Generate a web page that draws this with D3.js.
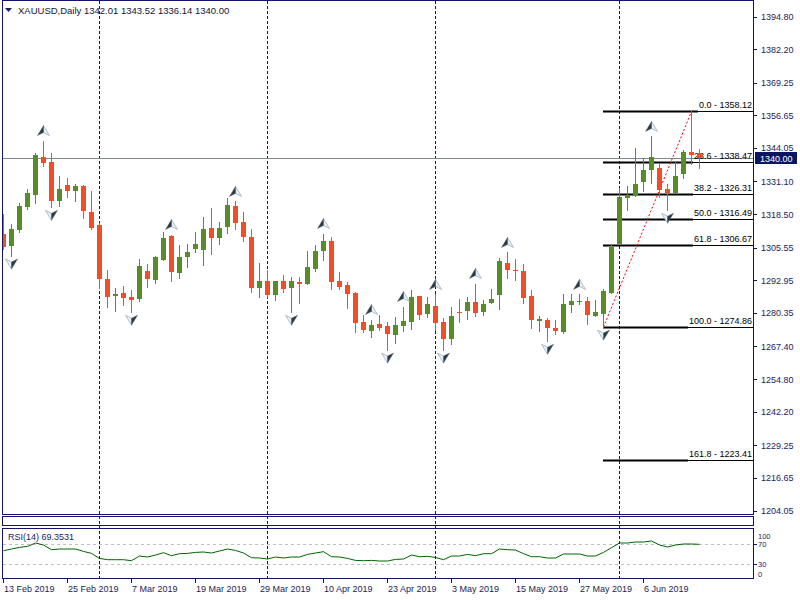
<!DOCTYPE html>
<html><head><meta charset="utf-8">
<script src="https://cdn.jsdelivr.net/npm/d3@7"></script>
<style>body{margin:0;background:#fff}svg{display:block}text{font-family:"Liberation Sans",Arial,sans-serif}</style>
</head><body><svg id="c" width="800" height="600"></svg>
<script>
// ---------------- DATA ----------------
const symbol = "XAUUSD,Daily";
const lastBar = [1342.01, 1343.52, 1336.14, 1340.00];
const bidPrice = 1340.00;
const rsiLabel = "RSI(14) 69.3531";

const dates = [
"2019-02-13","2019-02-14","2019-02-15","2019-02-18","2019-02-19","2019-02-20","2019-02-21","2019-02-22","2019-02-25","2019-02-26","2019-02-27","2019-02-28",
"2019-03-01","2019-03-04","2019-03-05","2019-03-06","2019-03-07","2019-03-08","2019-03-11","2019-03-12","2019-03-13","2019-03-14","2019-03-15","2019-03-18","2019-03-19","2019-03-20","2019-03-21","2019-03-22","2019-03-25","2019-03-26","2019-03-27","2019-03-28","2019-03-29",
"2019-04-01","2019-04-02","2019-04-03","2019-04-04","2019-04-05","2019-04-08","2019-04-09","2019-04-10","2019-04-11","2019-04-12","2019-04-15","2019-04-16","2019-04-17","2019-04-18","2019-04-22","2019-04-23","2019-04-24","2019-04-25","2019-04-26","2019-04-29","2019-04-30",
"2019-05-01","2019-05-02","2019-05-03","2019-05-06","2019-05-07","2019-05-08","2019-05-09","2019-05-10","2019-05-13","2019-05-14","2019-05-15","2019-05-16","2019-05-17","2019-05-20","2019-05-21","2019-05-22","2019-05-23","2019-05-24","2019-05-27","2019-05-28","2019-05-29","2019-05-30","2019-05-31",
"2019-06-03","2019-06-04","2019-06-05","2019-06-06","2019-06-07","2019-06-10","2019-06-11","2019-06-12","2019-06-13","2019-06-14","2019-06-17"];

const openP = [1311.0,1306.1,1312.3,1321.2,1325.8,1340.7,1338.8,1323.5,1329.6,1327.3,1329.2,1319.5,
1314.1,1293.3,1286.8,1287.9,1286.3,1285.6,1296.7,1293.0,1300.7,1310.2,1295.7,1301.9,1305.0,1304.8,1313.0,1309.1,1313.4,1321.8,1315.6,1309.5,1289.9,
1292.5,1287.2,1292.5,1289.9,1292.1,1291.4,1297.2,1304.2,1308.3,1292.5,1291.3,1287.9,1276.7,1273.3,1275.9,1275.1,1271.7,1275.2,1276.8,1286.7,1279.9,
1283.2,1277.0,1270.2,1280.6,1281.0,1284.4,1280.6,1284.0,1287.2,1299.8,1297.1,1296.7,1286.7,1277.3,1277.5,1274.6,1272.9,1283.3,1284.5,1285.1,1279.1,1280.0,1288.1,
1306.8,1324.8,1325.4,1330.8,1335.5,1336.4,1328.0,1326.6,1334.1,1342.3,1342.01];
const highP = [1318.4,1314.5,1322.9,1328.0,1342.2,1346.9,1342.0,1333.4,1332.6,1330.3,1329.9,1327.6,
1315.1,1297.1,1289.8,1290.9,1289.0,1301.0,1299.4,1302.5,1311.4,1310.6,1306.4,1306.8,1311.4,1317.2,1320.7,1315.3,1324.9,1323.4,1319.5,1312.6,1299.8,
1297.1,1292.6,1294.8,1294.4,1294.4,1304.1,1306.4,1311.0,1309.5,1296.0,1292.1,1288.6,1279.7,1277.8,1279.7,1276.7,1278.6,1282.8,1289.0,1286.7,1286.3,
1287.5,1278.2,1282.8,1285.9,1286.3,1291.7,1285.5,1289.4,1301.4,1303.7,1301.0,1299.2,1289.0,1279.0,1278.3,1277.5,1287.5,1287.5,1287.5,1286.3,1285.5,1289.4,1307.0,
1328.4,1329.2,1344.1,1340.0,1348.5,1338.3,1330.3,1338.5,1343.3,1358.12,1343.52];
const lowP = [1305.2,1302.3,1311.5,1320.3,1322.6,1336.9,1321.1,1321.6,1325.0,1323.5,1316.9,1312.8,
1289.8,1282.6,1281.0,1283.3,1280.6,1284.9,1290.3,1291.8,1300.7,1292.6,1293.8,1298.0,1303.8,1298.8,1303.0,1306.9,1311.1,1312.6,1308.0,1288.4,1286.4,
1286.3,1285.3,1288.4,1280.6,1284.1,1291.4,1296.5,1300.7,1289.5,1289.5,1282.2,1272.9,1272.9,1271.0,1273.7,1266.0,1268.7,1273.3,1274.1,1277.9,1278.7,
1273.7,1266.0,1268.3,1276.8,1277.9,1279.1,1279.5,1284.0,1281.7,1293.8,1293.0,1284.1,1274.5,1273.3,1269.4,1272.1,1272.5,1280.6,1283.7,1276.0,1279.1,1274.86,1288.1,
1306.8,1320.0,1325.4,1327.3,1330.6,1325.2,1320.0,1326.6,1332.4,1338.0,1336.14];
const closeP = [1305.9,1312.6,1321.8,1326.5,1341.5,1338.2,1323.5,1328.0,1327.3,1329.2,1319.6,1313.1,
1293.4,1286.4,1287.5,1286.0,1285.3,1298.3,1293.4,1301.8,1309.1,1296.1,1302.1,1303.7,1306.8,1312.6,1309.1,1313.3,1322.2,1315.0,1309.6,1289.9,1292.5,
1287.2,1292.5,1289.5,1292.5,1291.4,1297.9,1304.1,1308.3,1292.2,1290.3,1287.6,1276.4,1273.7,1275.5,1274.5,1272.1,1275.5,1277.4,1286.3,1279.5,1283.6,
1276.4,1270.2,1279.0,1280.2,1284.4,1280.2,1283.6,1285.9,1300.2,1296.8,1296.5,1286.0,1277.5,1277.9,1274.5,1273.3,1283.6,1284.8,1285.1,1279.5,1280.6,1288.7,1305.7,
1325.0,1326.0,1330.2,1335.7,1340.7,1327.7,1326.5,1333.4,1342.3,1341.2,1340.00];

const rsiValues = [56.6,60,63.2,65.2,72,68,58.6,60,60,60,55.2,51.2,
41.2,38.6,38.6,38.6,36.6,46,44,48,52.6,46.6,50.6,51.2,53.2,54,52,56,60,57.2,52,42.6,42,
40,44,42,44,44,49.2,52,54.6,44.6,44,41.2,37.2,36.6,37.2,36,36,39.2,40,48,44.6,45.2,
43.2,38.6,46,46,49.2,46.6,50.6,50.6,60,58.6,58,50.6,44.6,44.6,42,42,50,50,50,46,46,53.2,62.6,
72,72,74,74,76,68,64,68,70,70,69.35];

const fractalUp = ["2019-02-20","2019-03-14","2019-03-26","2019-04-10","2019-04-18","2019-04-25","2019-05-01","2019-05-08","2019-05-14","2019-05-27","2019-06-07"];
const fractalDown = ["2019-02-14","2019-02-21","2019-03-07","2019-04-04","2019-04-23","2019-05-02","2019-05-21","2019-05-30","2019-06-11"];

const separators = ["2019-03-01","2019-04-01","2019-05-01","2019-06-03"];
const timeTickDates = ["2019-02-13","2019-02-25","2019-03-07","2019-03-19","2019-03-29","2019-04-10","2019-04-23","2019-05-03","2019-05-15","2019-05-27","2019-06-06"];
const timeTickLabels = ["13 Feb 2019","25 Feb 2019","7 Mar 2019","19 Mar 2019","29 Mar 2019","10 Apr 2019","23 Apr 2019","3 May 2019","15 May 2019","27 May 2019","6 Jun 2019"];
const priceTicks = [1394.80,1382.20,1369.25,1356.65,1344.05,1331.10,1318.50,1305.55,1292.95,1280.35,1267.40,1254.80,1242.20,1229.25,1216.65,1204.05];
const rsiTicks = [100,70,30,0];
const rsiLevels = [70,30];

const fiboLevels = [0.0,23.6,38.2,50.0,61.8,100.0,161.8];
const fiboHigh = 1358.12, fiboLow = 1274.86;
const fiboHighDate = "2019-06-14", fiboLowDate = "2019-05-30";

// ---------------- STYLE ----------------
const C_UP = "#568c2c", C_DN = "#f04e26", C_FRAME = "#14146b", C_TXT = "#1c1c5c";

// ---------------- CHART ----------------
const svg = d3.select("#c");
svg.append("rect").attr("width",800).attr("height",600).attr("fill","#fff");
const defs = svg.append("defs");
defs.append("clipPath").attr("id","cm").append("rect").attr("x",3).attr("y",1).attr("width",750).attr("height",513);
defs.append("clipPath").attr("id","cr").append("rect").attr("x",3).attr("y",529).attr("width",750).attr("height",49);

const x = d3.scalePoint().domain(dates).range([3, 3 + 8*(dates.length-1)]);
const y = d3.scaleLinear().domain([1204.05,1394.80]).range([510.5,16.5]);
const yr = d3.scaleLinear().domain([0,100]).range([579,529]);
const bars = dates.map((d,i)=>({d,o:openP[i],h:highP[i],l:lowP[i],c:closeP[i],r:rsiValues[i]}));

// period separators
svg.append("g").selectAll("line").data(separators).join("line")
  .attr("x1",d=>x(d)+0.5).attr("x2",d=>x(d)+0.5).attr("y1",1).attr("y2",578)
  .attr("stroke",C_FRAME).attr("stroke-dasharray","3,2");

// RSI levels
svg.append("g").attr("clip-path","url(#cr)").selectAll("line").data(rsiLevels).join("line")
  .attr("x1",3).attr("x2",753).attr("y1",d=>Math.round(yr(d))+0.5).attr("y2",d=>Math.round(yr(d))+0.5)
  .attr("stroke","#c0c0c0").attr("stroke-dasharray","3,3");

// bid line
svg.append("line").attr("x1",3).attr("x2",753).attr("y1",Math.round(y(bidPrice))+0.5).attr("y2",Math.round(y(bidPrice))+0.5)
  .attr("stroke","#778899");

// fibonacci (objects drawn in background)
const fx1 = x(fiboLowDate);
const fg = svg.append("g");
const fl = fg.append("g"), ft = fg.append("g");
fiboLevels.forEach(lv=>{
  const p = fiboHigh - (fiboHigh-fiboLow)*lv/100;
  const yy = Math.round(y(p));
  const t = ft.append("text").attr("x",752).attr("y",yy-3).attr("text-anchor","end")
    .attr("font-size",9).attr("fill","#000").text(`${lv.toFixed(1)} - ${p.toFixed(2)}`);
  const tw = t.node().getComputedTextLength();
  fl.append("line").attr("x1",fx1).attr("x2",753).attr("y1",yy+0.5).attr("y2",yy+0.5).attr("stroke","#000");
  fl.append("line").attr("x1",fx1).attr("x2",752-tw-1).attr("y1",yy+0.5).attr("y2",yy+0.5).attr("stroke","#000").attr("stroke-width",2);
});
fl.append("line").attr("x1",x(fiboLowDate)+0.5).attr("y1",y(fiboLow)).attr("x2",x(fiboHighDate)+0.5).attr("y2",y(fiboHigh))
  .attr("stroke","#ff0000").attr("stroke-dasharray","2,2");

// candles
const cg = svg.append("g").attr("clip-path","url(#cm)");
const cs = cg.selectAll("g").data(bars).join("g");
cs.append("line").attr("x1",b=>x(b.d)+0.5).attr("x2",b=>x(b.d)+0.5)
  .attr("y1",b=>Math.round(y(b.h))).attr("y2",b=>Math.round(y(b.l))+1)
  .attr("stroke",b=>b.c>=b.o?C_UP:C_DN);
cs.append("rect").attr("x",b=>x(b.d)-2).attr("width",5)
  .attr("y",b=>Math.round(y(Math.max(b.o,b.c))))
  .attr("height",b=>Math.max(1,Math.round(y(Math.min(b.o,b.c)))-Math.round(y(Math.max(b.o,b.c)))))
  .attr("fill",b=>b.c>=b.o?C_UP:C_DN);

// fractals
const byDate = new Map(bars.map(b=>[b.d,b]));
const fu = svg.append("g").selectAll("g").data(fractalUp).join("g")
  .attr("transform",d=>`translate(${x(d)+0.5},${y(byDate.get(d).h)-10})`);
fu.append("path").attr("d","M0,-5L6,5L0,2Z").attr("fill","#e9eff5").attr("stroke","#9db0c4").attr("stroke-width",0.8);
fu.append("path").attr("d","M0,-5L-6,5L0,2Z").attr("fill","#2a3944").attr("stroke","#5b6f80").attr("stroke-width",0.5);
const fd = svg.append("g").selectAll("g").data(fractalDown).join("g")
  .attr("transform",d=>`translate(${x(d)+0.5},${y(byDate.get(d).l)+8})`);
fd.append("path").attr("d","M0,5L-6,-5L0,-2Z").attr("fill","#e9eff5").attr("stroke","#9db0c4").attr("stroke-width",0.8);
fd.append("path").attr("d","M0,5L6,-5L0,-2Z").attr("fill","#2a3944").attr("stroke","#5b6f80").attr("stroke-width",0.5);

// RSI line
svg.append("path").attr("clip-path","url(#cr)").datum(bars)
  .attr("d",d3.line().x(b=>x(b.d)+0.5).y(b=>yr(b.r)))
  .attr("fill","none").attr("stroke","#006400").attr("stroke-width",1);

// frames
svg.append("rect").attr("x",2.5).attr("y",0.5).attr("width",751).attr("height",514).attr("fill","none").attr("stroke",C_FRAME);
svg.append("rect").attr("x",2.5).attr("y",516.5).attr("width",751).attr("height",9).attr("fill","none").attr("stroke",C_FRAME);
svg.append("rect").attr("x",2.5).attr("y",528.5).attr("width",751).attr("height",50).attr("fill","none").attr("stroke",C_FRAME);

// price axis
const pa = svg.append("g");
pa.selectAll("line").data(priceTicks).join("line")
  .attr("x1",753).attr("x2",757).attr("y1",d=>Math.round(y(d))+0.5).attr("y2",d=>Math.round(y(d))+0.5).attr("stroke",C_FRAME);
pa.selectAll("text").data(priceTicks).join("text")
  .attr("x",761).attr("y",d=>y(d)+3.5).attr("font-size",9).attr("fill",C_TXT).text(d=>d.toFixed(2));

// bid label
const by = y(bidPrice);
svg.append("rect").attr("x",755).attr("y",Math.round(by)-6).attr("width",42).attr("height",12).attr("fill","#0b1660");
svg.append("text").attr("x",760).attr("y",by+3.5).attr("font-size",9).attr("fill","#fff").text(bidPrice.toFixed(2));

// rsi axis
const ra = svg.append("g");
ra.selectAll("line").data(rsiLevels).join("line")
  .attr("x1",753).attr("x2",757).attr("y1",d=>Math.round(yr(d))+0.5).attr("y2",d=>Math.round(yr(d))+0.5).attr("stroke",C_FRAME);
ra.selectAll("text").data(rsiTicks).join("text")
  .attr("x",758).attr("y",d=>Math.min(576.5,Math.max(538.5,yr(d)+3.3))).attr("font-size",7.5).attr("fill",C_TXT).text(d=>d);

// time axis
const ta = svg.append("g");
ta.selectAll("line").data(timeTickDates).join("line")
  .attr("x1",d=>x(d)+0.5).attr("x2",d=>x(d)+0.5).attr("y1",579).attr("y2",583).attr("stroke",C_FRAME);
ta.selectAll("text").data(timeTickDates).join("text")
  .attr("x",d=>x(d)+1).attr("y",592).attr("font-size",9).attr("fill",C_TXT).text((d,i)=>timeTickLabels[i]);

// header
svg.append("path").attr("d","M5,8L12,8L8.5,12Z").attr("fill",C_TXT);
svg.append("text").attr("x",18).attr("y",14).attr("font-size",9.5).attr("fill","#141438")
  .text(symbol + " " + lastBar.map(v=>v.toFixed(2)).join(" "));
svg.append("text").attr("x",8).attr("y",540).attr("font-size",9).attr("fill",C_TXT).text(rsiLabel);
</script></body></html>
